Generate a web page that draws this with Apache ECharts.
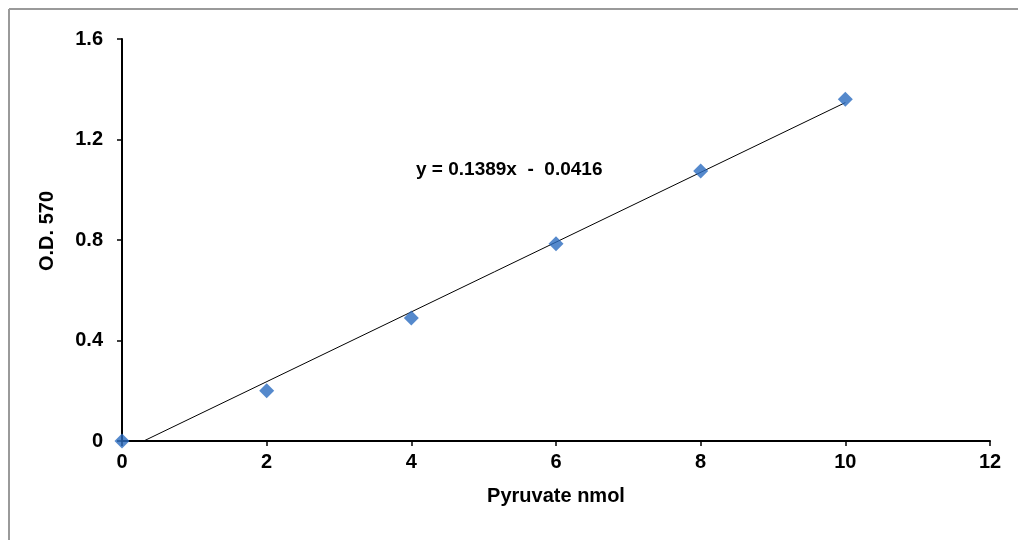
<!DOCTYPE html>
<html>
<head>
<meta charset="utf-8">
<script src="https://cdn.jsdelivr.net/npm/echarts@6/dist/echarts.min.js"></script>
<style>
  html, body { margin: 0; padding: 0; background: #fff; }
  #main { width: 1018px; height: 540px; }
</style>
</head>
<body>
<div id="main"></div>
<script>
// standard curve points
var pyruvate = [0, 2, 4, 6, 8, 10]
var od570 = [0, 0.2, 0.49, 0.785, 1.075, 1.36]

// linear trendline (y = 0.1389x - 0.0416), drawn between its endpoints
var trendX = [0.3, 10]
var trendY = [0, 1.347]
var equation = 'y = 0.1389x  -  0.0416'

var font = '"Liberation Sans", Arial, sans-serif'

var chart = echarts.init(document.getElementById('main'))
chart.setOption({
  animation: false,
  backgroundColor: '#fff',
  grid: { left: 122, right: 28, top: 39, bottom: 99 },
  graphic: [
    { type: 'line', shape: { x1: 9, y1: 9, x2: 9, y2: 540 }, style: { stroke: '#9a9a9a', lineWidth: 2 } },
    { type: 'line', shape: { x1: 9, y1: 9, x2: 1018, y2: 9 }, style: { stroke: '#9a9a9a', lineWidth: 2 } },
    {
      type: 'text', left: 416, top: 160,
      style: { text: equation, font: 'bold 19px ' + font, fill: '#000' }
    },
    {
      // y axis title, Excel puts it a little above the plot centre
      type: 'text', x: 47, y: 231, rotation: Math.PI / 2,
      style: { text: 'O.D. 570', font: 'bold 20px ' + font, fill: '#000', align: 'center', verticalAlign: 'middle' }
    }
  ],
  xAxis: {
    type: 'value', min: 0, max: 12, interval: 2,
    name: 'Pyruvate nmol', nameLocation: 'middle', nameGap: 45,
    nameTextStyle: { fontFamily: font, fontWeight: 'bold', fontSize: 20, color: '#000' },
    axisLine: { onZero: false, lineStyle: { color: '#000', width: 2 } },
    axisTick: { show: true, length: 5, lineStyle: { color: '#000', width: 1.5 } },
    axisLabel: { fontFamily: font, fontWeight: 'bold', fontSize: 20, color: '#000', margin: 11 },
    splitLine: { show: false }
  },
  yAxis: {
    type: 'value', min: 0, max: 1.6, interval: 0.4,
    axisLine: { show: true, lineStyle: { color: '#000', width: 2 } },
    axisTick: { show: true, length: 5, lineStyle: { color: '#000', width: 1.5 } },
    axisLabel: { fontFamily: font, fontWeight: 'bold', fontSize: 20, color: '#000', margin: 19 },
    splitLine: { show: false }
  },
  series: [
    {
      type: 'line',
      data: trendX.map(function (x, i) { return [x, trendY[i]] }),
      showSymbol: false,
      lineStyle: { color: '#000', width: 1 },
      z: 2
    },
    {
      type: 'scatter',
      data: pyruvate.map(function (x, i) { return [x, od570[i]] }),
      symbol: 'diamond',
      symbolSize: [15, 15],
      itemStyle: { color: '#2a6cbf' },
      z: 3
    }
  ]
})
</script>
</body>
</html>
